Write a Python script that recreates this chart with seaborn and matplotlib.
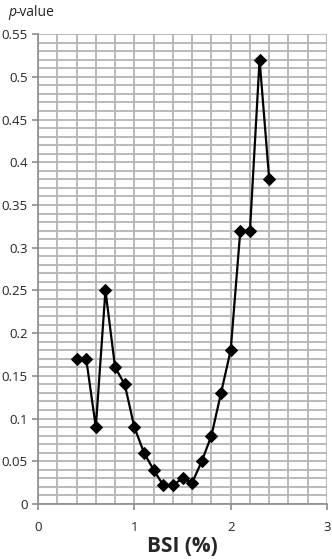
import matplotlib
matplotlib.use("Agg")
import matplotlib.pyplot as plt
import numpy as np
import pandas as pd
import seaborn as sns
from matplotlib.ticker import MultipleLocator, FuncFormatter

bsi = [0.4, 0.5, 0.6, 0.7, 0.8, 0.9, 1.0, 1.1, 1.2, 1.3, 1.4,
       1.5, 1.6, 1.7, 1.8, 1.9, 2.0, 2.1, 2.2, 2.3, 2.4]
pvals = [0.17, 0.17, 0.09, 0.25, 0.16, 0.14, 0.09, 0.06, 0.04, 0.022, 0.022,
         0.03, 0.025, 0.05, 0.08, 0.13, 0.18, 0.32, 0.32, 0.52, 0.38]

df = pd.DataFrame({'BSI': bsi, 'p': pvals})

sns.set_style('white')
plt.rcParams['font.family'] = ['Open Sans', 'DejaVu Sans']

fig = plt.figure(figsize=(3.32, 5.59), dpi=100)
ax = fig.add_axes([0.1145, 0.0984, 0.8705, 0.8406])

sns.lineplot(data=df, x='BSI', y='p', ax=ax, color='black', linewidth=1.6,
             marker='D', markersize=6.5, markeredgecolor='black', zorder=3)

ax.set_xlim(0, 3)
ax.set_ylim(0, 0.55)
ax.xaxis.set_major_locator(MultipleLocator(1))
ax.xaxis.set_minor_locator(MultipleLocator(0.2))
ax.yaxis.set_major_locator(MultipleLocator(0.05))
ax.yaxis.set_minor_locator(MultipleLocator(0.01))
ax.yaxis.set_major_formatter(FuncFormatter(lambda v, pos: f'{v:.2f}'.rstrip('0').rstrip('.')))
ax.xaxis.set_major_formatter(FuncFormatter(lambda v, pos: f'{v:.0f}'))
ax.grid(True, which='both', color='#b4b4b4', linewidth=1.3)
ax.set_axisbelow(True)

for s in ['top', 'right']:
    ax.spines[s].set_visible(False)
for s in ['left', 'bottom']:
    ax.spines[s].set_color('#8c8c8c')
    ax.spines[s].set_linewidth(1.2)

ax.tick_params(axis='both', which='major', length=4, width=1.2, color='#8c8c8c',
               labelsize=9.5, direction='out', left=True, bottom=True)
ax.tick_params(axis='both', which='minor', length=0)
ax.tick_params(axis='x', pad=8)

ax.set_xlabel('BSI (%)', fontsize=15, fontweight='bold', labelpad=2)
ax.set_ylabel('')
t1 = fig.text(0.025, 0.978, 'p', fontsize=10, style='italic', va='center', ha='left')
fig.text(0.025 + 0.022, 0.978, '-value', fontsize=10, va='center', ha='left')

fig.savefig('out.png', dpi=100)
